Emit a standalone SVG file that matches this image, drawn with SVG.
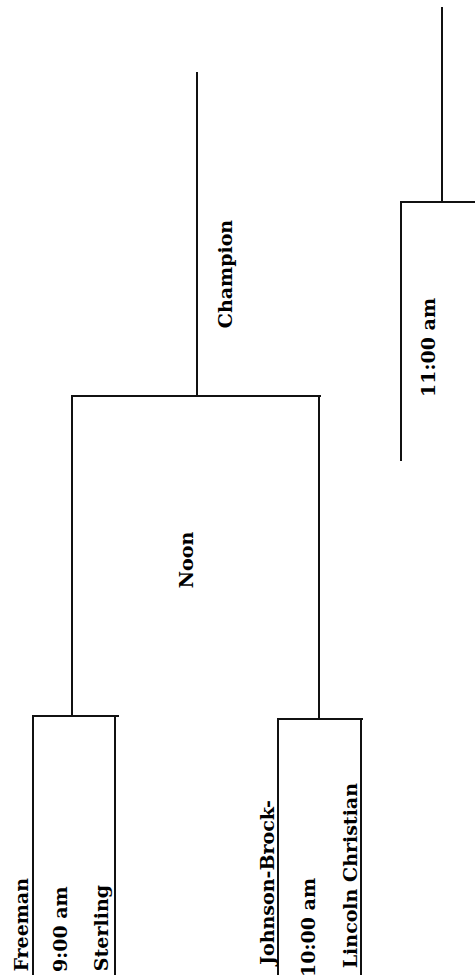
<svg xmlns="http://www.w3.org/2000/svg" width="475" height="975" viewBox="0 0 475 975">
<style>
.l{stroke:#111;stroke-width:2;fill:none;stroke-linecap:square}
.t{font-family:"DejaVu Serif","Liberation Serif",serif;font-weight:bold;font-size:19px;fill:#000}
</style>
<rect width="475" height="975" fill="#fff"/>
<g id="connectors">
<path class="l" d="M442,8V202M401,202H475M401,202V460"/>
<path class="l" d="M197,73V396"/>
<path class="l" d="M72,396H320M72,396V716M319,396V719"/>
<path class="l" d="M34,716H118M33,716V975M115,718V975"/>
<path class="l" d="M278,719H362M278,719V975M361,719V975"/>
</g>
<g id="champion"><text class="t" text-anchor="middle" transform="translate(232,274) rotate(-90)">Champion</text></g>
<g id="r3"><text class="t" text-anchor="end" transform="translate(435,298) rotate(-90)">11:00 am</text></g>
<g id="noon"><text class="t" text-anchor="middle" transform="translate(193,560) rotate(-90)">Noon</text></g>
<g id="freeman"><text class="t" text-anchor="end" transform="translate(28,878) rotate(-90)">Freeman</text></g>
<g id="g900"><text class="t" text-anchor="start" transform="translate(67,972) rotate(-90)">9:00 am</text></g>
<g id="sterling"><text class="t" text-anchor="end" transform="translate(108,885) rotate(-90)">Sterling</text></g>
<g id="jb"><text class="t" text-anchor="end" transform="translate(274,800) rotate(-90)">Johnson-Brock-</text></g>
<g id="g1000"><text class="t" text-anchor="end" transform="translate(315,878) rotate(-90)">10:00 am</text></g>
<g id="lc"><text class="t" text-anchor="end" transform="translate(357,783) rotate(-90)">Lincoln Christian</text></g>
</svg>
